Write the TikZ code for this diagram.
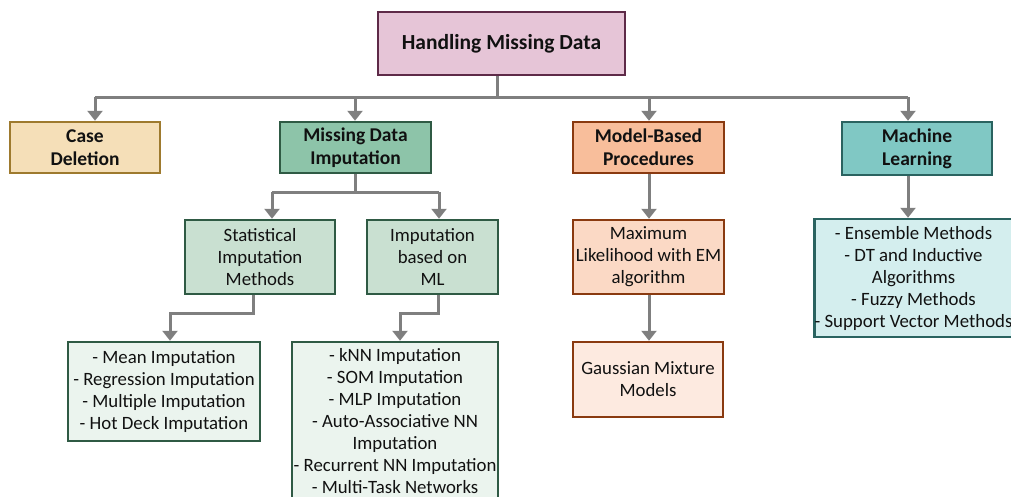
\documentclass[tikz,border=0pt]{standalone}
\usepackage{fontspec}
\setmainfont{Carlito}
\usetikzlibrary{arrows.meta}
\definecolor{linegray}{HTML}{7F7F7F}
\definecolor{txt}{HTML}{111111}
\definecolor{topfill}{HTML}{E6C5D7}\definecolor{topdraw}{HTML}{5E2A48}
\definecolor{casefill}{HTML}{F5DFB8}\definecolor{casedraw}{HTML}{9E7A2E}
\definecolor{mdifill}{HTML}{8DC4A9}\definecolor{greendraw}{HTML}{2F5A44}
\definecolor{mbpfill}{HTML}{F8BE9B}\definecolor{browndraw}{HTML}{8A3A10}
\definecolor{mlfill}{HTML}{80C8C4}\definecolor{tealdraw}{HTML}{2A6360}
\definecolor{greenmid}{HTML}{C9E0D1}\definecolor{greenlight}{HTML}{EBF4EE}
\definecolor{orangemid}{HTML}{FBD9C5}\definecolor{orangelight}{HTML}{FDEAE0}
\definecolor{teallight}{HTML}{D4EEEE}
\tikzset{
  box/.style={draw, line width=2.5pt, inner sep=0pt, align=center, text=txt},
  hbox/.style={box, font=\fontsize{19.5}{23}\selectfont\bfseries},
  nbox/.style={box, font=\fontsize{18.8}{22}\selectfont},
  conn/.style={draw=linegray, line width=3pt},
  arr/.style={conn, -{Triangle[width=15pt,length=10pt]}, shorten >=0pt},
}
\begin{document}
\begin{tikzpicture}[x=1pt,y=-1pt]
\useasboundingbox (0,0) rectangle (1011,496);
\begin{scope}
\clip (0,0) rectangle (1011,496);
% level 0
\node[box, fill=topfill, draw=topdraw, minimum width=247pt, minimum height=63pt, font=\fontsize{21.5}{25}\selectfont\bfseries] (top) at (501.5,43.5) {Handling Missing Data};
% level 1
\node[hbox, fill=casefill, draw=casedraw, minimum width=150pt, minimum height=51pt] (case) at (85,147.5) {Case\\Deletion};
\node[hbox, fill=mdifill, draw=greendraw, minimum width=151pt, minimum height=51pt] (mdi) at (355.5,147.5) {Missing Data\\Imputation};
\node[hbox, fill=mbpfill, draw=browndraw, minimum width=151pt, minimum height=51pt] (mbp) at (648.5,147.5) {Model-Based\\Procedures};
\node[hbox, fill=mlfill, draw=tealdraw, minimum width=150pt, minimum height=53pt] (ml) at (917,148.5) {Machine\\Learning};
% level 2
\node[nbox, fill=greenmid, draw=greendraw, minimum width=150pt, minimum height=74pt] (stat) at (260,257) {Statistical\\Imputation\\Methods};
\node[nbox, fill=greenmid, draw=greendraw, minimum width=131pt, minimum height=74pt] (iml) at (432.5,257) {Imputation\\based on\\ML};
\node[nbox, fill=orangemid, draw=browndraw, minimum width=151pt, minimum height=74pt] (mle) at (648.5,257) {Maximum\\Likelihood with EM\\algorithm};
\node[nbox, fill=teallight, draw=tealdraw, minimum width=197pt, minimum height=118pt] (ens) at (913.5,278) {- Ensemble Methods\\- DT and Inductive\\Algorithms\\- Fuzzy Methods\\- Support Vector Methods};
% level 3
\node[nbox, fill=greenlight, draw=greendraw, minimum width=192pt, minimum height=99pt] (mean) at (164,391.5) {- Mean Imputation\\- Regression Imputation\\- Multiple Imputation\\- Hot Deck Imputation};
\node[nbox, fill=greenlight, draw=greendraw, minimum width=206pt, minimum height=158pt] (knn) at (395,421) {- kNN Imputation\\- SOM Imputation\\- MLP Imputation\\- Auto-Associative NN\\Imputation\\- Recurrent NN Imputation\\- Multi-Task Networks};
\node[nbox, fill=orangelight, draw=browndraw, minimum width=150pt, minimum height=75pt] (gauss) at (648,379.5) {Gaussian Mixture\\Models};
\end{scope}
% connectors
\coordinate (bus) at (497,97);
\coordinate (b1) at (95,97);
\coordinate (b2) at (355,97);
\coordinate (b3) at (649,97);
\coordinate (b4) at (908,97);
\draw[conn] (top.south -| bus) -- (bus);
\draw[conn] (b1) -- (b4);
\draw[arr] (b1) -- (b1 |- case.north);
\draw[arr] (b2) -- (b2 |- mdi.north);
\draw[arr] (b3) -- (b3 |- mbp.north);
\draw[arr] (b4) -- (b4 |- ml.north);
% sub-split of imputation
\coordinate (s0) at (355,192);
\coordinate (s1) at (272,192);
\coordinate (s2) at (439,192);
\draw[conn] (mdi.south -| s0) -- (s0);
\draw[conn] (s1) -- (s2);
\draw[arr] (s1) -- (s1 |- stat.north);
\draw[arr] (s2) -- (s2 |- iml.north);
% to leaf boxes
\coordinate (t1) at (253,313);
\coordinate (t2) at (170,313);
\draw[arr] (stat.south -| t1) -- (t1) -- (t2) -- (t2 |- mean.north);
\coordinate (u1) at (438,313);
\coordinate (u2) at (400,313);
\draw[arr] (iml.south -| u1) -- (u1) -- (u2) -- (u2 |- knn.north);
% model based chain
\draw[arr] (mbp.south -| b3) -- (b3 |- mle.north);
\draw[arr] (mle.south -| b3) -- (b3 |- gauss.north);
% machine learning
\draw[arr] (ml.south -| b4) -- (b4 |- ens.north);
\end{tikzpicture}
\end{document}
